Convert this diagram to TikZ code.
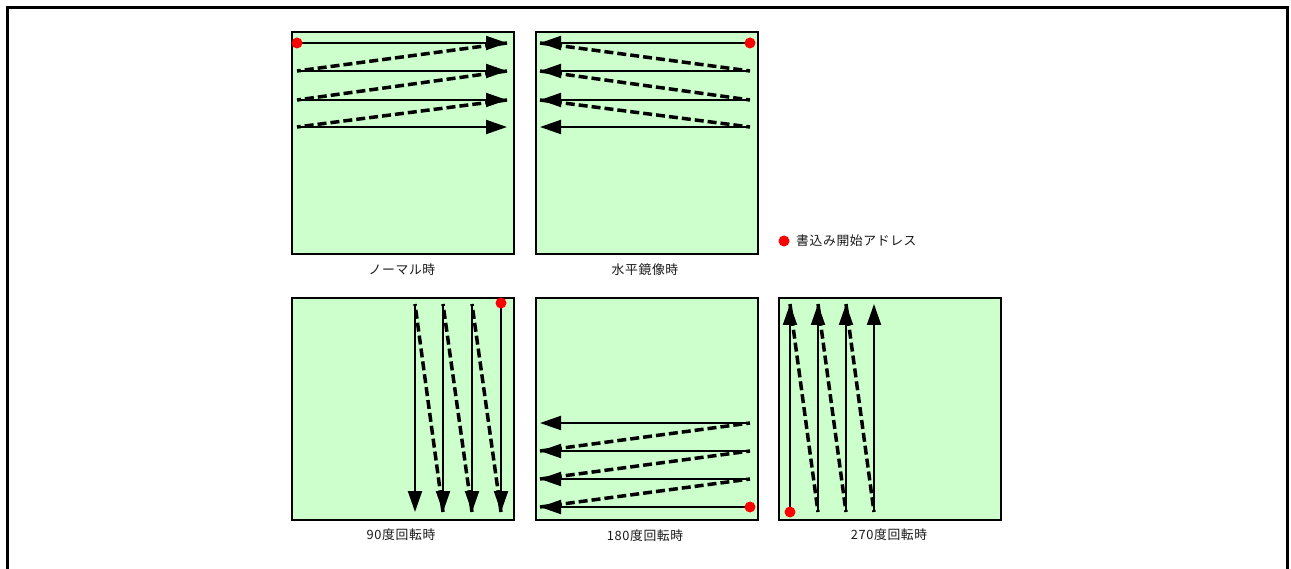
\documentclass[tikz,border=0pt]{standalone}
\usepackage{fontspec}
\newfontfamily\jpfont[LetterSpace=5]{Noto Sans CJK JP}
\usetikzlibrary{arrows.meta}
\definecolor{panelgreen}{HTML}{CCFFCC}
\tikzset{
  panel/.style={draw=black, line width=1.8pt, fill=panelgreen, minimum width=222pt, minimum height=222pt, inner sep=0pt, anchor=north west},
  scan/.style={line width=2pt, -{Triangle[length=21pt,width=14pt]}},
  ret/.style={line width=3.5pt, dash pattern=on 9pt off 4pt},
  startdot/.style={circle, fill=red, inner sep=0pt, minimum size=11pt},
  caption/.style={font=\jpfont\fontsize{12.8}{15}\selectfont, text=black!90, inner sep=0pt}
}
\begin{document}
\begin{tikzpicture}[x=1pt,y=-1pt]
\useasboundingbox (0,0) rectangle (1291,569);
\fill[white] (0,0) rectangle (1291,569);
\draw[line width=3pt] (7.5,569) -- (7.5,8) -- (1287.5,8) -- (1287.5,569);

% panels
\node[panel] (p1) at (291,31) {};
\node[panel] (p2) at (535,31) {};
\node[panel] (p3) at (291,297) {};
\node[panel] (p4) at (535,297) {};
\node[panel] (p5) at (778,297) {};

% captions
\node[caption] (c1) at (402,270) {ノーマル時};
\node[caption] (c2) at (645,270) {水平鏡像時};
\node[caption] (c3) at (401,535) {90度回転時};
\node[caption] (c4) at (645,536) {180度回転時};
\node[caption] (c5) at (889,535) {270度回転時};

% legend
\node[startdot] (legdot) at (784,241) {};
\node[caption, anchor=west] (legtext) at (796,241) {書込み開始アドレス};

% panel 1: normal
\foreach \i/\y in {1/43,2/71,3/100,4/127}{
  \coordinate (a\i s) at (297,\y);
  \coordinate (a\i e) at (507,\y);
}
\foreach \i/\j in {1/2,2/3,3/4} \draw[ret] (a\i e) -- (a\j s);
\foreach \i in {1,...,4} \draw[scan] (a\i s) -- (a\i e);
\node[startdot] (d1) at (a1s) {};

% panel 2: horizontal mirror
\foreach \i/\y in {1/43,2/71,3/100,4/127}{
  \coordinate (b\i s) at (750,\y);
  \coordinate (b\i e) at (540,\y);
}
\foreach \i/\j in {1/2,2/3,3/4} \draw[ret] (b\i e) -- (b\j s);
\foreach \i in {1,...,4} \draw[scan] (b\i s) -- (b\i e);
\node[startdot] (d2) at (b1s) {};

% panel 3: 90 degrees
\foreach \i/\x in {1/501,2/472,3/443,4/415}{
  \coordinate (c\i s) at (\x,304);
  \coordinate (c\i e) at (\x,512);
}
\foreach \i/\j in {1/2,2/3,3/4} \draw[ret] (c\i e) -- (c\j s);
\foreach \i in {1,...,4} \draw[scan] (c\i s) -- (c\i e);
\node[startdot] (d3) at (501,303) {};

% panel 4: 180 degrees
\foreach \i/\y in {1/507,2/479,3/451,4/423}{
  \coordinate (e\i s) at (750,\y);
  \coordinate (e\i e) at (540,\y);
}
\foreach \i/\j in {1/2,2/3,3/4} \draw[ret] (e\i e) -- (e\j s);
\foreach \i in {1,...,4} \draw[scan] (e\i s) -- (e\i e);
\node[startdot] (d4) at (e1s) {};

% panel 5: 270 degrees
\foreach \i/\x in {1/790,2/818,3/846,4/874}{
  \coordinate (f\i s) at (\x,512);
  \coordinate (f\i e) at (\x,304);
}
\foreach \i/\j in {1/2,2/3,3/4} \draw[ret] (f\i e) -- (f\j s);
\foreach \i in {1,...,4} \draw[scan] (f\i s) -- (f\i e);
\node[startdot] (d5) at (f1s) {};
\end{tikzpicture}
\end{document}
